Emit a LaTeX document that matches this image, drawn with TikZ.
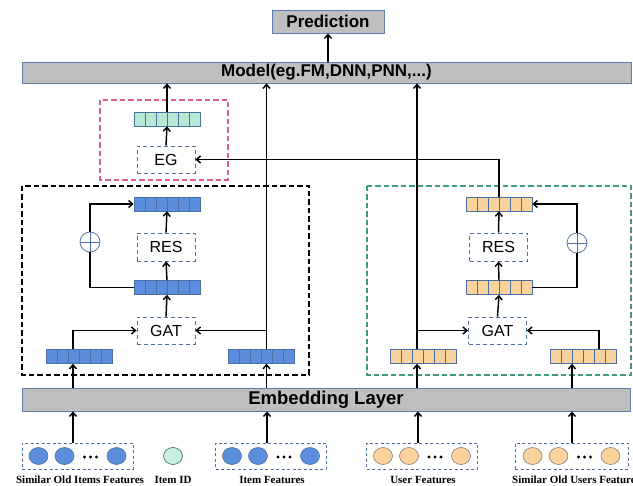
\documentclass[tikz,border=0pt]{standalone}
\usepackage{fontspec}
\setmainfont{Liberation Serif}
\setsansfont{Liberation Sans}
\usepackage{xcolor}
\usepackage{tikz}
\usetikzlibrary{shapes.geometric, arrows.meta, positioning}
\definecolor{bargray}{HTML}{BFBFBF}
\definecolor{barline}{HTML}{5B7DB0}
\definecolor{opline}{HTML}{4F6E9E}
\definecolor{cellline}{HTML}{4A6FA0}
\definecolor{bluecell}{HTML}{5B8EDC}
\definecolor{orangecell}{HTML}{F9D39B}
\definecolor{greencell}{HTML}{B8E8D4}
\definecolor{itemid}{HTML}{C9EEDF}
\definecolor{redbox}{HTML}{E0607E}
\definecolor{greenbox}{HTML}{3F9C7A}
\tikzstyle{bar} = [rectangle, draw=barline, fill=bargray, line width=0.8pt, inner sep=0pt, font=\sffamily\bfseries\fontsize{17}{20}\selectfont]
\tikzstyle{op} = [rectangle, draw=opline, line width=0.9pt, dash pattern=on 4pt off 3pt, minimum width=58pt, minimum height=27pt, font=\sffamily\fontsize{16}{18}\selectfont]
\tikzstyle{vec} = [rectangle, draw=cellline, line width=0.6pt, minimum width=66pt, minimum height=14pt, inner sep=0pt,
  path picture={\foreach \k in {1,...,5}{\draw[cellline, line width=0.6pt] ([xshift=\k*11pt]path picture bounding box.south west) -- ([xshift=\k*11pt]path picture bounding box.north west);}}]
\tikzstyle{group} = [rectangle, draw=opline, line width=0.8pt, dash pattern=on 3pt off 2.5pt, minimum width=111pt, minimum height=26pt]
\tikzstyle{feat} = [ellipse, line width=0.6pt, minimum width=19pt, minimum height=17pt, inner sep=0pt]
\tikzstyle{oplus} = [circle, draw=opline, fill=white, line width=0.7pt, minimum size=20pt, inner sep=0pt,
  path picture={\draw[opline, line width=0.7pt] (path picture bounding box.north) -- (path picture bounding box.south) (path picture bounding box.west) -- (path picture bounding box.east);}]
\tikzstyle{frame} = [line width=1.2pt, dash pattern=on 5.5pt off 3pt]
\tikzstyle{caption} = [font=\rmfamily\bfseries\fontsize{11}{13}\selectfont, inner sep=0pt]
\tikzstyle{arrow} = [line width=1.45pt, ->, >={Straight Barb[length=4pt,width=7pt]}]

\begin{document}
\begin{tikzpicture}[x=1pt, y=-1pt]
\useasboundingbox (0,0) rectangle (633,486);

% frames
\draw[frame, draw=redbox] (100,100) rectangle (228,180);
\draw[frame, draw=black] (22,186) rectangle (309,375);
\draw[frame, draw=greenbox] (367,186) rectangle (631,375);

% bars
\node (pred) [bar, minimum width=112pt, minimum height=23pt] at (328,21.5) {Prediction};
\node (model) [bar, minimum width=609pt, minimum height=21pt] at (326.5,72.5) {Model(eg.FM,DNN,PNN,...)};
\node (embed) [bar, minimum width=608pt, minimum height=23pt, font=\sffamily\bfseries\fontsize{18.5}{21}\selectfont] at (326,399.5) {Embedding Layer};

% item side
\node (gvec) [vec, fill=greencell] at (167,119) {};
\node (eg) [op] at (166,159.5) {EG};
\node (btop) [vec, fill=bluecell] at (167,204) {};
\node (resL) [op, minimum height=28pt] at (166,247) {RES};
\node (bmid) [vec, fill=bluecell] at (167,287.5) {};
\node (gatL) [op] at (166,330.5) {GAT};
\node (bl) [vec, fill=bluecell] at (79,356.5) {};
\node (br) [vec, fill=bluecell] at (261,356.5) {};
\node (plusL) [oplus] at (90,242) {};

% user side
\node (otop) [vec, fill=orangecell] at (499,204) {};
\node (resR) [op, minimum height=28pt] at (498.5,247) {RES};
\node (omid) [vec, fill=orangecell] at (499,287.5) {};
\node (gatR) [op] at (497.5,330.5) {GAT};
\node (ol) [vec, fill=orangecell] at (423,356.5) {};
\node (or) [vec, fill=orangecell] at (583.5,356.5) {};
\node (plusR) [oplus] at (577,243) {};

% input features
\node (g1) [group] at (77.5,456) {};
\node (idn) [feat, draw=greenbox!70!black, fill=itemid] at (173,456) {};
\node (g2) [group] at (271,456) {};
\node (g3) [group] at (422,456) {};
\node (g4) [group, minimum width=113pt] at (571.5,456) {};
\foreach \g/\c/\e in {g1/bluecell/cellline, g2/bluecell/cellline, g3/orangecell/gray, g4/orangecell/gray}{
  \node [feat, draw=\e, fill=\c] at ([xshift=-39pt]\g.center) {};
  \node [feat, draw=\e, fill=\c] at ([xshift=-13pt]\g.center) {};
  \node [feat, draw=\e, fill=\c] at ([xshift=39pt]\g.center) {};
  \foreach \d in {-6,0,6}
    \fill ([xshift=13pt+\d pt, yshift=-1pt]\g.center) circle (1.6pt);
}
\node [caption] at (80,480) {Similar Old Items Features};
\node [caption] at (173,480) {Item ID};
\node [caption] at (272,480) {Item Features};
\node [caption] at (423,480) {User Features};
\node [caption, anchor=west] at (512,480) {Similar Old Users Features};

% connectors
\draw [arrow] (model.north -| pred.south) -- (pred.south);
\draw [arrow] (gvec.north) -- (gvec.north |- model.south);
\draw [arrow] (eg.north) -- (gvec.south);
\draw [arrow] (otop.north) |- (eg.east);
\draw [arrow] (resL.north) -- (btop.south);
\draw [arrow] (bmid.north) -- (resL.south);
\draw [arrow] (gatL.north) -- (bmid.south);
\draw [line width=1.45pt] (bmid.west) -| (plusL.south);
\draw [arrow] (plusL.north) |- (btop.west);
\draw [arrow] ([xshift=-6pt]bl.north) |- (gatL.west);
\draw [arrow] ([xshift=5.5pt]br.north) -- ([xshift=5.5pt]br.north |- model.south);
\draw [arrow] ([xshift=5.5pt]br.north |- gatL.east) -- (gatL.east);
\draw [arrow] (resR.north) -- (otop.south);
\draw [arrow] (omid.north) -- (resR.south);
\draw [arrow] (gatR.north) -- (omid.south);
\draw [line width=1.45pt] (omid.east) -| (plusR.south);
\draw [arrow] (plusR.north) |- (otop.east);
\draw [arrow] ([xshift=-6pt]ol.north) -- ([xshift=-6pt]ol.north |- model.south);
\draw [arrow] ([xshift=-6pt]ol.north |- gatR.west) -- (gatR.west);
\draw [arrow] ([xshift=15.5pt]or.north) |- (gatR.east);
\draw [arrow] ([xshift=-6pt]bl.south |- embed.north) -- ([xshift=-6pt]bl.south);
\draw [arrow] ([xshift=5.5pt]br.south |- embed.north) -- ([xshift=5.5pt]br.south);
\draw [arrow] ([xshift=-6pt]ol.south |- embed.north) -- ([xshift=-6pt]ol.south);
\draw [arrow] ([xshift=-11.5pt]or.south |- embed.north) -- ([xshift=-11.5pt]or.south);
\draw [arrow] ([xshift=-4.5pt]g1.north) -- ([xshift=-4.5pt]g1.north |- embed.south);
\draw [arrow] ([xshift=-4pt]g2.north) -- ([xshift=-4pt]g2.north |- embed.south);
\draw [arrow] ([xshift=-4pt]g3.north) -- ([xshift=-4pt]g3.north |- embed.south);
\draw [arrow] ([xshift=0.5pt]g4.north) -- ([xshift=0.5pt]g4.north |- embed.south);

\end{tikzpicture}
\end{document}
